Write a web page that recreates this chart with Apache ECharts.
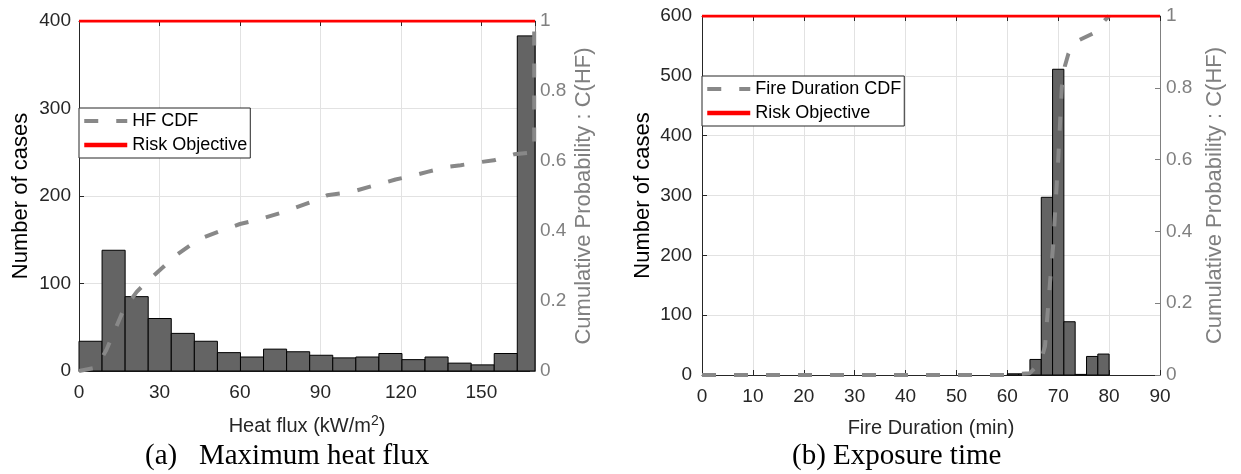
<!DOCTYPE html>
<html>
<head>
<meta charset="utf-8">
<script src="https://cdn.jsdelivr.net/npm/echarts@6/dist/echarts.min.js"></script>
<style>
  html, body { margin: 0; padding: 0; background: #fff; }
  #chart { width: 1241px; height: 474px; }
</style>
</head>
<body>
<div id="chart"></div>
<script>
// ---- (a) Maximum heat flux -------------------------------------------
// histogram bin edges (kW/m^2) and number of cases per bin
const hfEdges = [0, 8.6, 17.2, 25.8, 34.4, 43, 51.6, 60.2, 68.8, 77.4, 86,
                 94.6, 103.2, 111.8, 120.4, 129, 137.6, 146.2, 154.8, 163.4, 172];
const hfCounts = [34, 138, 85, 60, 43, 34, 21, 16, 25, 22,
                  18, 15, 16, 20, 13, 16, 9, 7, 20, 383];
// empirical cumulative distribution of heat flux
const hfCdfX = [0, 6.5, 10.2, 16.5, 21.5, 25.8, 31.4, 34.5, 41.4, 45.2, 52.6, 60, 66.3,
                76.2, 88.1, 92.5, 101.2, 112.4, 118, 124.9, 129.9, 137.3, 142.3,
                149.8, 154.7, 162.2, 167.2, 169.7, 169.7];
const hfCdfY = [0, 0.01, 0.06, 0.173, 0.226, 0.259, 0.297, 0.321, 0.359, 0.378, 0.40, 0.42, 0.431,
                0.454, 0.487, 0.502, 0.511, 0.535, 0.547, 0.559, 0.569, 0.583, 0.588,
                0.597, 0.602, 0.619, 0.623, 0.625, 1];
// axis ranges: [min, max, interval]
const hfXAxis = [0, 170, 30];
const hfYAxis = [0, 400, 100];

// ---- (b) Exposure time ----------------------------------------------
const fdEdges = [60, 62.22, 64.44, 66.67, 68.89, 71.11, 73.33, 75.56, 77.78, 80];
const fdCounts = [2, 2, 26, 297, 511, 89, 1, 31, 35];
const fdCdfX = [0, 60, 64.4, 66.5, 67.4, 68.4, 69, 70, 70.7, 71.3, 72, 73, 74, 76.9, 79.2, 80];
const fdCdfY = [0, 0, 0.005, 0.035, 0.08, 0.26, 0.36, 0.6, 0.8, 0.86, 0.895, 0.92, 0.932, 0.952, 0.989, 1];
const fdXAxis = [0, 90, 10];
const fdYAxis = [0, 600, 100];

// shared: probability axis and the risk objective level
const probAxis = [0, 1, 0.2];
const riskLevel = 1;

const SANS = '"Liberation Sans", Arial, sans-serif';
const SERIF = '"Liberation Serif", "Times New Roman", serif';
const INK = '#262626';
const GREY = '#808080';
const GRID = '#e2e2e2';
const CDF_GREY = '#888888';

function histData(edges, counts) {
  return counts.map((c, i) => [edges[i], edges[i + 1], c]);
}
function zip(xs, ys) { return xs.map((x, i) => [x, ys[i]]); }

// one rectangle per bin, spanning its edges on the value axis
function renderBin(params, api) {
  const p0 = api.coord([api.value(0), 0]);
  const p1 = api.coord([api.value(1), api.value(2)]);
  const cs = params.coordSys;
  const rect = echarts.graphic.clipRectByRect(
    { x: p0[0], y: p1[1], width: p1[0] - p0[0], height: p0[1] - p1[1] },
    { x: cs.x, y: cs.y, width: cs.width, height: cs.height });
  if (!rect) return;
  return {
    type: 'rect',
    shape: rect,
    style: { fill: '#646464', stroke: '#000', lineWidth: 1 }
  };
}

function bottomAxis(gi, range, showMax) {
  return {
    type: 'value', gridIndex: gi, position: 'bottom',
    min: range[0], max: range[1], interval: range[2],
    axisLine: { onZero: false, lineStyle: { color: INK, width: 1 } },
    axisTick: { inside: true, length: 5, lineStyle: { color: INK } },
    axisLabel: { margin: 12, fontFamily: SANS, fontSize: 19, color: INK, showMaxLabel: showMax },
    splitLine: { show: true, lineStyle: { color: GRID, width: 1 } }
  };
}
function topAxis(gi, range) {
  return {
    type: 'value', gridIndex: gi, position: 'top',
    min: range[0], max: range[1], interval: range[2],
    axisLine: { onZero: false, lineStyle: { color: INK, width: 1 } },
    axisTick: { inside: true, length: 5, lineStyle: { color: INK } },
    axisLabel: { show: false },
    splitLine: { show: false }
  };
}
function countAxis(gi, range, labelMargin, nameGap) {
  return {
    type: 'value', gridIndex: gi, position: 'left',
    min: range[0], max: range[1], interval: range[2],
    name: 'Number of cases', nameLocation: 'middle', nameGap: nameGap,
    nameTextStyle: { fontFamily: SANS, fontSize: 22, color: '#000' },
    axisLine: { onZero: false, lineStyle: { color: INK, width: 1 } },
    axisTick: { inside: true, length: 5, lineStyle: { color: INK } },
    axisLabel: { margin: labelMargin, fontFamily: SANS, fontSize: 19, color: INK },
    splitLine: { show: true, lineStyle: { color: GRID, width: 1 } }
  };
}
function probabilityAxis(gi, labelMargin, nameGap) {
  return {
    type: 'value', gridIndex: gi, position: 'right',
    min: probAxis[0], max: probAxis[1], interval: probAxis[2],
    name: 'Cumulative Probability : C(HF)', nameLocation: 'middle', nameGap: nameGap,
    nameTextStyle: { fontFamily: SANS, fontSize: 22, color: GREY },
    axisLine: { onZero: false, lineStyle: { color: GREY, width: 1 } },
    axisTick: { inside: true, length: 5, lineStyle: { color: GREY } },
    axisLabel: { margin: labelMargin, fontFamily: SANS, fontSize: 19, color: GREY },
    splitLine: { show: false }
  };
}
// legend: dashed CDF sample and thick red risk sample, no marker
function legendBox(cdfName, left, top) {
  return {
    data: [
      { name: cdfName, lineStyle: { color: CDF_GREY, width: 4, type: [14, 18], cap: 'butt' } },
      { name: 'Risk Objective', lineStyle: { color: '#ff0000', width: 4.5 } }
    ],
    orient: 'vertical', left: left, top: top,
    backgroundColor: '#fff', borderColor: INK, borderWidth: 1,
    padding: [3, 3, 3, 3], itemGap: 4, itemWidth: 43, itemHeight: 14,
    itemStyle: { opacity: 0 },
    selectedMode: false,
    textStyle: { fontFamily: SANS, fontSize: 18, color: '#000', lineHeight: 20 }
  };
}
const cdfLine = { color: CDF_GREY, width: 4, type: [14, 18], cap: 'butt' };
const riskLine = { color: '#ff0000', width: 3 };

const chart = echarts.init(document.getElementById('chart'), null, { renderer: 'canvas' });
chart.setOption({
  animation: false,
  backgroundColor: '#fff',
  grid: [
    { left: 79, top: 21, width: 456, height: 350 },
    { left: 702, top: 16, width: 458, height: 359 }
  ],
  xAxis: [
    Object.assign(bottomAxis(0, hfXAxis, false), {
      name: 'Heat flux (kW/m{sup|2})', nameLocation: 'middle', nameGap: 43,
      nameTextStyle: {
        fontFamily: SANS, fontSize: 20, color: INK,
        rich: { sup: { fontFamily: SANS, fontSize: 14, color: INK, verticalAlign: 'top', padding: [0, 0, 10, 0] } }
      }
    }),
    topAxis(0, hfXAxis),
    Object.assign(bottomAxis(1, fdXAxis, true), {
      name: 'Fire Duration (min)', nameLocation: 'middle', nameGap: 43,
      nameTextStyle: { fontFamily: SANS, fontSize: 20, color: INK }
    }),
    topAxis(1, fdXAxis)
  ],
  yAxis: [
    countAxis(0, hfYAxis, 8, 47),
    probabilityAxis(0, 5, 38),
    countAxis(1, fdYAxis, 10, 48),
    probabilityAxis(1, 6, 44)
  ],
  legend: [
    legendBox('HF CDF', 79, 108),
    legendBox('Fire Duration CDF', 702, 76)
  ],
  series: [
    {
      name: 'Heat flux histogram', type: 'custom', xAxisIndex: 0, yAxisIndex: 0,
      renderItem: renderBin, encode: { x: [0, 1], y: 2 },
      data: histData(hfEdges, hfCounts), z: 2
    },
    {
      name: 'HF CDF', type: 'line', xAxisIndex: 0, yAxisIndex: 1,
      data: zip(hfCdfX, hfCdfY), symbol: 'none', showSymbol: false,
      lineStyle: cdfLine, itemStyle: { color: CDF_GREY }, z: 4
    },
    {
      name: 'Risk Objective', type: 'line', xAxisIndex: 0, yAxisIndex: 1,
      data: [[hfXAxis[0], riskLevel], [hfXAxis[1], riskLevel]], symbol: 'none',
      lineStyle: riskLine, itemStyle: { color: '#ff0000' }, z: 5
    },
    {
      name: 'Fire duration histogram', type: 'custom', xAxisIndex: 2, yAxisIndex: 2,
      renderItem: renderBin, encode: { x: [0, 1], y: 2 },
      data: histData(fdEdges, fdCounts), z: 2
    },
    {
      name: 'Fire Duration CDF', type: 'line', xAxisIndex: 2, yAxisIndex: 3,
      data: zip(fdCdfX, fdCdfY), symbol: 'none', showSymbol: false,
      lineStyle: cdfLine, itemStyle: { color: CDF_GREY }, z: 4
    },
    {
      name: 'Risk Objective', type: 'line', xAxisIndex: 2, yAxisIndex: 3,
      data: [[fdXAxis[0], riskLevel], [fdXAxis[1], riskLevel]], symbol: 'none',
      lineStyle: riskLine, itemStyle: { color: '#ff0000' }, z: 5
    }
  ],
  graphic: [
    { type: 'text', left: 145, top: 442, style: { text: '(a)   Maximum heat flux', font: '29px ' + SERIF, fill: '#000' } },
    { type: 'text', left: 792, top: 442, style: { text: '(b) Exposure time', font: '29px ' + SERIF, fill: '#000' } }
  ]
});
</script>
</body>
</html>
